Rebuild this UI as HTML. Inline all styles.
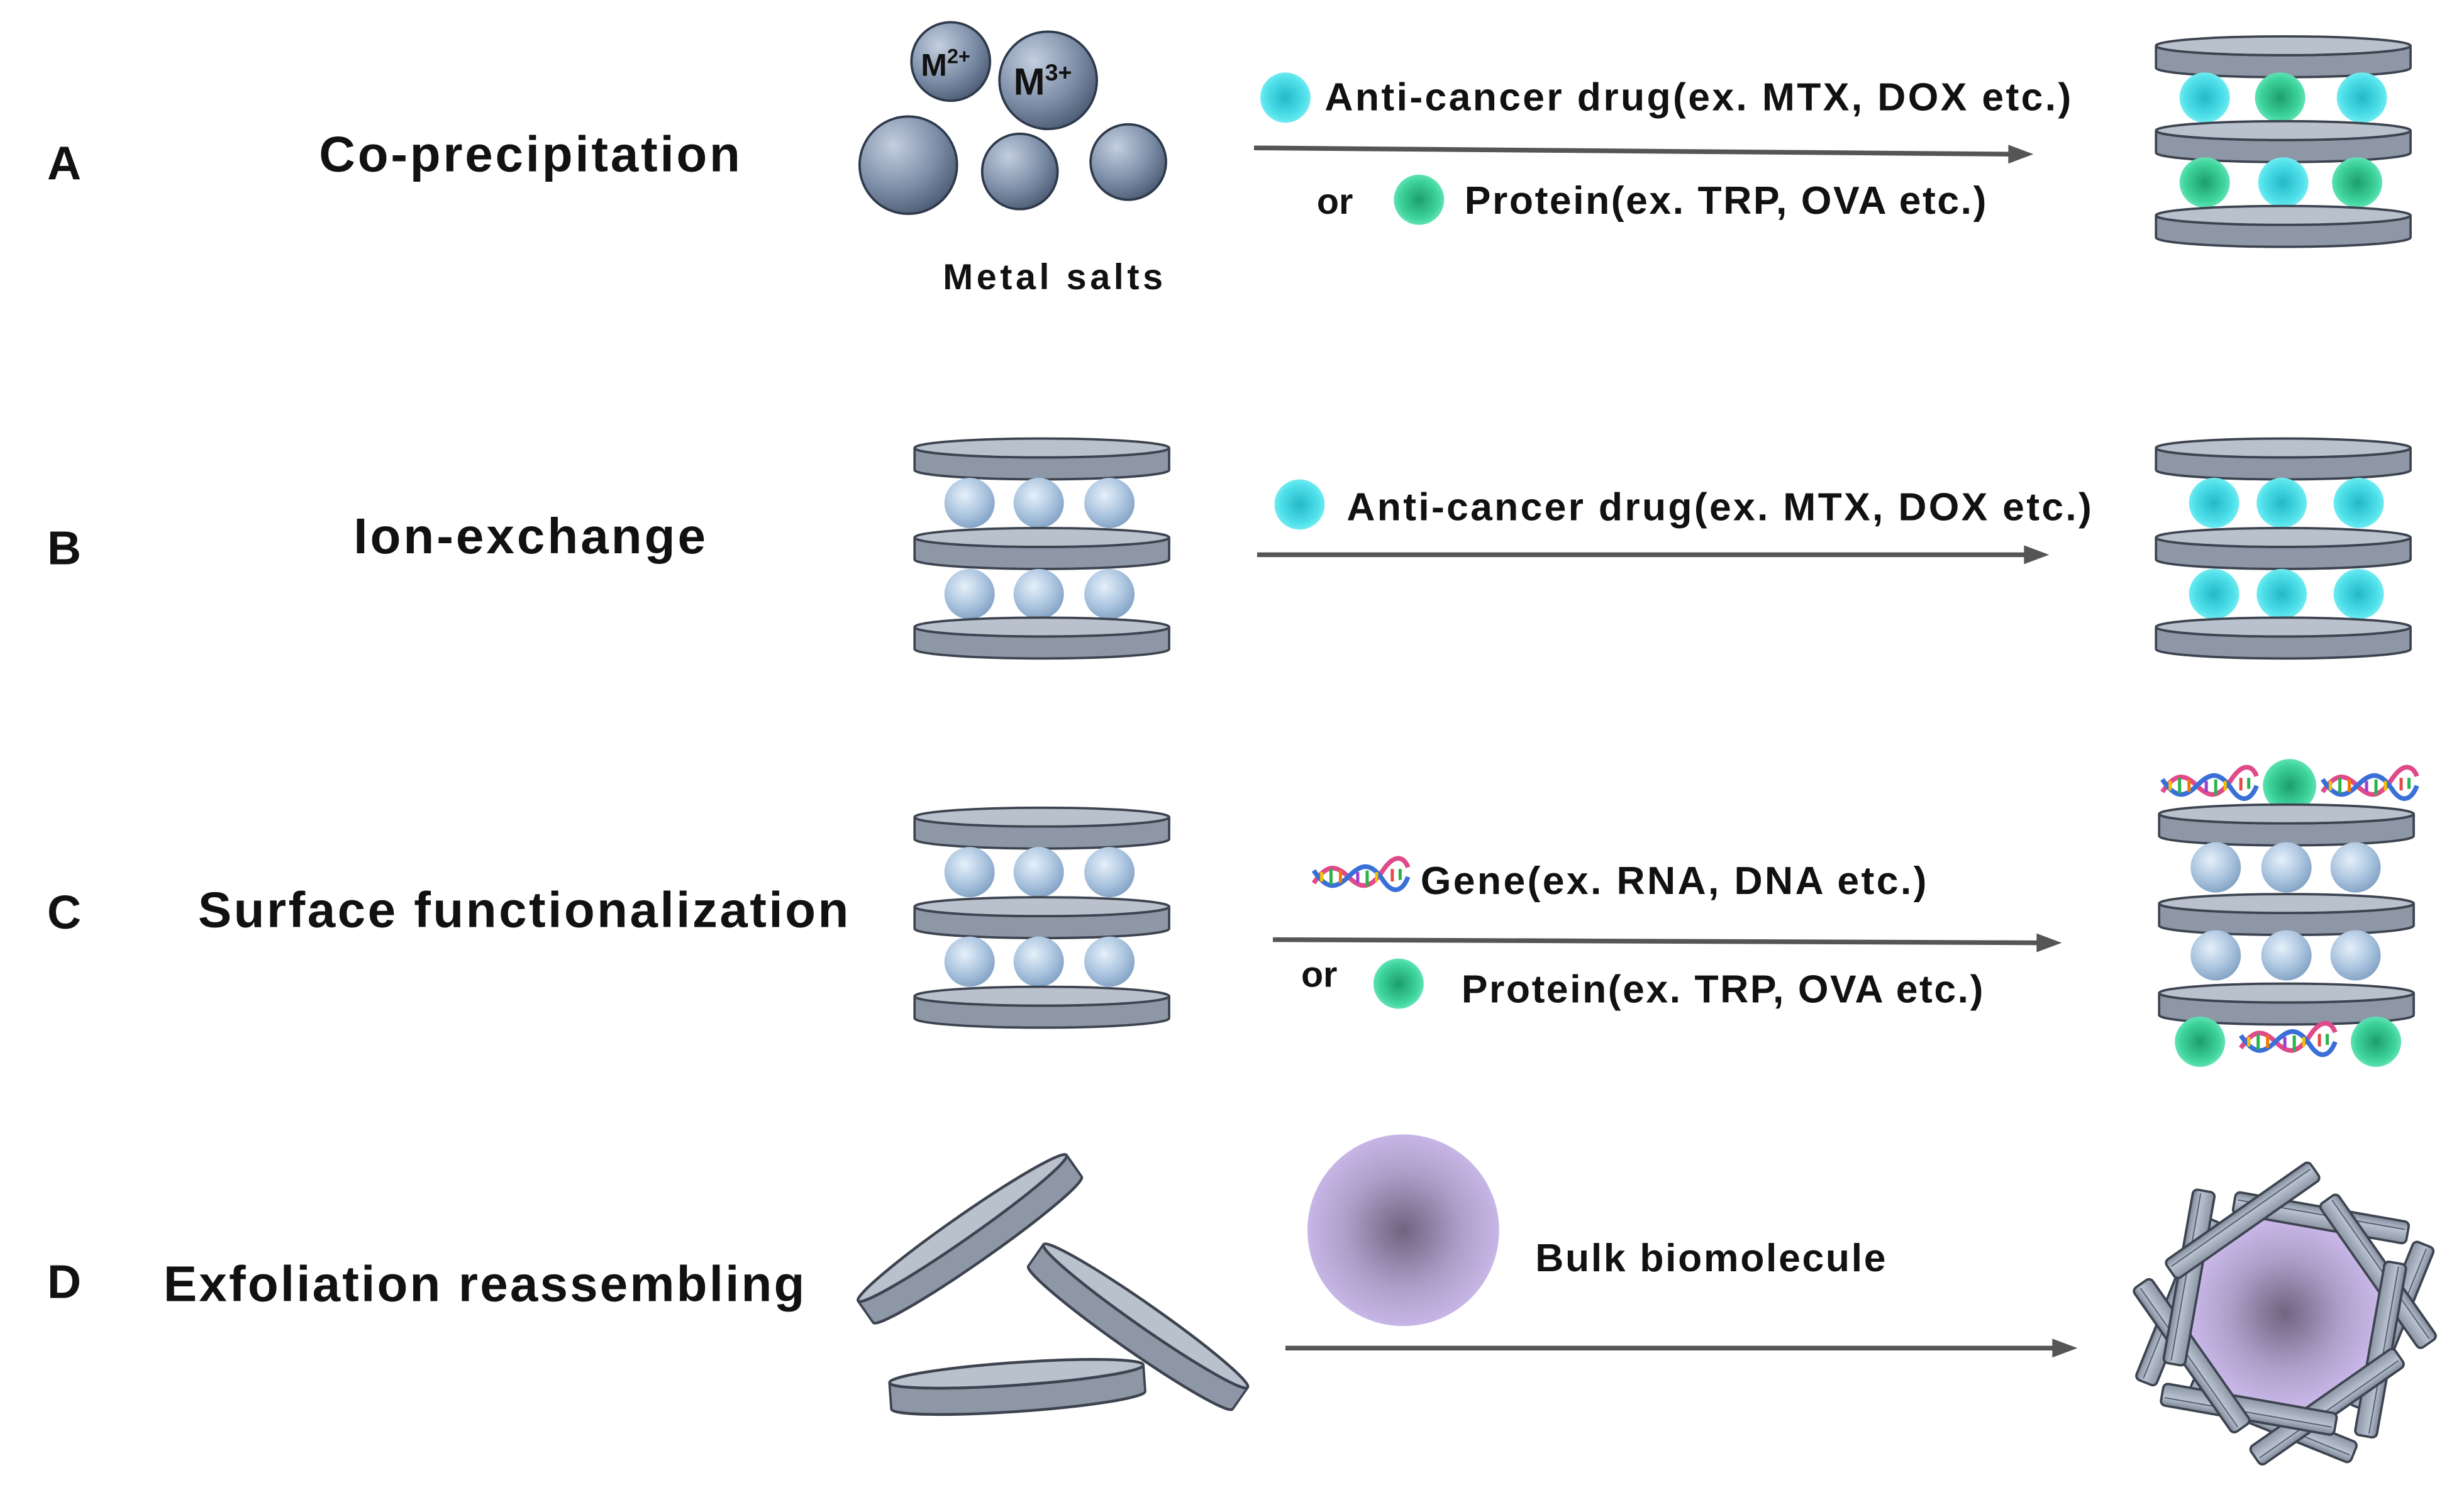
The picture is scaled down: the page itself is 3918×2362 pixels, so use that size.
<!DOCTYPE html>
<html><head><meta charset="utf-8"><style>
html,body{margin:0;padding:0;background:#fff;}
svg{display:block;}
text{font-family:"Liberation Sans","DejaVu Sans",sans-serif;font-weight:bold;fill:#111;}
</style></head><body>
<svg width="3918" height="2362" viewBox="0 0 1568 945" xmlns="http://www.w3.org/2000/svg">
<defs>
<radialGradient id="metal" cx="35%" cy="30%" r="75%"><stop offset="0" stop-color="#c4cfdf"/><stop offset="0.6" stop-color="#7d8ea8"/><stop offset="1" stop-color="#4d5c74"/></radialGradient>
<radialGradient id="blue" cx="40%" cy="35%" r="70%"><stop offset="0" stop-color="#e6f0fa"/><stop offset="0.6" stop-color="#a9c3de"/><stop offset="1" stop-color="#7f9fc2"/></radialGradient>
<radialGradient id="cyan" cx="50%" cy="50%" r="55%"><stop offset="0" stop-color="#22b8c8"/><stop offset="0.7" stop-color="#4fe0ea"/><stop offset="1" stop-color="#7ff0f4"/></radialGradient>
<radialGradient id="green" cx="50%" cy="50%" r="55%"><stop offset="0" stop-color="#1c9e6c"/><stop offset="0.7" stop-color="#3fd49c"/><stop offset="1" stop-color="#6fe8c0"/></radialGradient>
<radialGradient id="purple" cx="50%" cy="50%" r="50%"><stop offset="0" stop-color="#6f6580"/><stop offset="0.6" stop-color="#ad9ec8"/><stop offset="1" stop-color="#c7b6e6"/></radialGradient>
<linearGradient id="barg" x1="0" y1="0" x2="0" y2="1"><stop offset="0" stop-color="#7d8694"/><stop offset="0.4" stop-color="#b8c2d0"/><stop offset="1" stop-color="#8a94a2"/></linearGradient>
<g id="disk">
<path d="M0,0 A81,6 0 0 0 162,0 V14 A81,6 0 0 1 0,14 Z" fill="#8d97a6" stroke="#3d4450" stroke-width="1.5"/>
<ellipse cx="81" cy="0" rx="81" ry="6" fill="#b9c1cd" stroke="#3d4450" stroke-width="1.5"/>
</g>
<g id="bar">
<rect x="-56" y="-7" width="112" height="14" rx="3" fill="url(#barg)" stroke="#3d4450" stroke-width="1.5"/>
<line x1="-54" y1="-2" x2="54" y2="-2" stroke="#5a6270" stroke-width="0.8"/>
</g>
<g id="bs"><circle r="16" fill="url(#blue)"/></g>
<g id="cs"><circle r="16" fill="url(#cyan)"/></g>
<g id="gs"><circle r="16" fill="url(#green)"/></g>
<g id="dna">
<path d="M0,10 C8,-2 14,-2 22,6 S36,14 44,2 S58,-6 60,0" fill="none" stroke="#e04a8a" stroke-width="3"/>
<path d="M0,2 C8,14 14,14 22,6 S36,-4 44,8 S58,12 60,6" fill="none" stroke="#3a6fd8" stroke-width="3"/>
<g stroke-width="2"><line x1="5" y1="3" x2="5" y2="9" stroke="#f2c200"/><line x1="11" y1="1" x2="11" y2="11" stroke="#2bb24c"/><line x1="17" y1="2" x2="17" y2="10" stroke="#f07a00"/><line x1="28" y1="3" x2="28" y2="10" stroke="#9c3fd0"/><line x1="34" y1="2" x2="34" y2="12" stroke="#2bb24c"/><line x1="40" y1="3" x2="40" y2="9" stroke="#f2c200"/><line x1="50" y1="1" x2="50" y2="9" stroke="#e04a4a"/><line x1="55" y1="1" x2="55" y2="8" stroke="#2bb24c"/></g>
</g>
</defs>

<text x="30" y="114" font-size="30">A</text>
<text x="30" y="359" font-size="30">B</text>
<text x="30" y="591" font-size="30">C</text>
<text x="30" y="826" font-size="30">D</text>
<text x="337" y="109" font-size="32" text-anchor="middle" textLength="268">Co-precipitation</text>
<text x="337" y="352" font-size="32" text-anchor="middle" textLength="224">Ion-exchange</text>
<text x="333" y="590" font-size="32" text-anchor="middle" textLength="414">Surface functionalization</text>
<text x="308" y="828" font-size="32" text-anchor="middle" textLength="408">Exfoliation reassembling</text>

<g stroke="#2e3a4c" stroke-width="1.5">
<circle cx="605" cy="39" r="25" fill="url(#metal)"/>
<circle cx="667" cy="51" r="31" fill="url(#metal)"/>
<circle cx="578" cy="105" r="31" fill="url(#metal)"/>
<circle cx="649" cy="109" r="24" fill="url(#metal)"/>
<circle cx="718" cy="103" r="24" fill="url(#metal)"/>
</g>
<text x="586" y="48" font-size="20">M<tspan font-size="13" dy="-8">2+</tspan></text>
<text x="645" y="60" font-size="24">M<tspan font-size="15" dy="-9">3+</tspan></text>
<text x="670" y="184" font-size="23" text-anchor="middle" textLength="140">Metal salts</text>

<use href="#cs" x="818" y="62"/>
<text x="843" y="70" font-size="25" textLength="475">Anti-cancer drug(ex. MTX, DOX etc.)</text>
<line x1="798" y1="94" x2="1280" y2="98" stroke="#555" stroke-width="3"/>
<polygon points="1294,98 1278,92 1278,104" fill="#555"/>
<text x="838" y="136" font-size="23">or</text>
<use href="#gs" x="903" y="127"/>
<text x="932" y="136" font-size="25" textLength="332">Protein(ex. TRP, OVA etc.)</text>

<use href="#disk" x="1372" y="29"/>
<use href="#cs" x="1403" y="62"/><use href="#gs" x="1451" y="62"/><use href="#cs" x="1503" y="62"/>
<use href="#disk" x="1372" y="83"/>
<use href="#gs" x="1403" y="116"/><use href="#cs" x="1453" y="116"/><use href="#gs" x="1500" y="116"/>
<use href="#disk" x="1372" y="137"/>

<use href="#disk" x="582" y="285"/>
<use href="#bs" x="617" y="320"/><use href="#bs" x="661" y="320"/><use href="#bs" x="706" y="320"/>
<use href="#disk" x="582" y="342"/>
<use href="#bs" x="617" y="378"/><use href="#bs" x="661" y="378"/><use href="#bs" x="706" y="378"/>
<use href="#disk" x="582" y="399"/>
<use href="#cs" x="827" y="321"/>
<text x="857" y="331" font-size="25" textLength="474">Anti-cancer drug(ex. MTX, DOX etc.)</text>
<line x1="800" y1="353" x2="1290" y2="353" stroke="#555" stroke-width="3"/>
<polygon points="1304,353 1288,347 1288,359" fill="#555"/>
<use href="#disk" x="1372" y="285"/>
<use href="#cs" x="1409" y="320"/><use href="#cs" x="1452" y="320"/><use href="#cs" x="1501" y="320"/>
<use href="#disk" x="1372" y="342"/>
<use href="#cs" x="1409" y="378"/><use href="#cs" x="1452" y="378"/><use href="#cs" x="1501" y="378"/>
<use href="#disk" x="1372" y="399"/>

<use href="#disk" x="582" y="520"/>
<use href="#bs" x="617" y="555"/><use href="#bs" x="661" y="555"/><use href="#bs" x="706" y="555"/>
<use href="#disk" x="582" y="577"/>
<use href="#bs" x="617" y="612"/><use href="#bs" x="661" y="612"/><use href="#bs" x="706" y="612"/>
<use href="#disk" x="582" y="634"/>
<use href="#dna" x="836" y="552"/>
<text x="904" y="569" font-size="25" textLength="322">Gene(ex. RNA, DNA etc.)</text>
<line x1="810" y1="598" x2="1298" y2="600" stroke="#555" stroke-width="3"/>
<polygon points="1312,600 1296,594 1296,606" fill="#555"/>
<text x="828" y="628" font-size="23">or</text>
<use href="#gs" x="890" y="626"/>
<text x="930" y="638" font-size="25" textLength="332">Protein(ex. TRP, OVA etc.)</text>
<use href="#dna" x="1376" y="494"/>
<use href="#dna" x="1478" y="494"/>
<circle cx="1457" cy="500" r="17" fill="url(#green)"/>
<use href="#disk" x="1374" y="518"/>
<use href="#bs" x="1410" y="552"/><use href="#bs" x="1455" y="552"/><use href="#bs" x="1499" y="552"/>
<use href="#disk" x="1374" y="575"/>
<use href="#bs" x="1410" y="608"/><use href="#bs" x="1455" y="608"/><use href="#bs" x="1499" y="608"/>
<use href="#disk" x="1374" y="632"/>
<use href="#gs" x="1400" y="663"/><use href="#gs" x="1512" y="663"/>
<use href="#dna" x="1426" y="657"/>

<use href="#disk" transform="translate(546,828) rotate(-35) scale(1,1.2)"/>
<use href="#disk" transform="translate(664,792) rotate(35) scale(0.98,1.2)"/>
<use href="#disk" transform="translate(566,880) rotate(-4) scale(1,1.2)"/>
<circle cx="893" cy="783" r="61" fill="url(#purple)"/>
<text x="977" y="809" font-size="25" textLength="223">Bulk biomolecule</text>
<line x1="818" y1="858" x2="1308" y2="858" stroke="#555" stroke-width="3"/>
<polygon points="1322,858 1306,852 1306,864" fill="#555"/>

<!-- D right: pinwheel of bars around octagon -->
<g transform="translate(1454,836)">
<use href="#bar" transform="rotate(22) translate(66,-18) rotate(90)"/>
<use href="#bar" transform="rotate(112) translate(66,-18) rotate(90)"/>
<use href="#bar" transform="rotate(202) translate(66,-18) rotate(90)"/>
<polygon points="-24,-58 24,-58 58,-24 58,24 24,58 -24,58 -58,24 -58,-24" transform="rotate(10)" fill="url(#purple)"/>
<use href="#bar" transform="rotate(-80) translate(64,12) rotate(90)"/>
<use href="#bar" transform="rotate(-35) translate(64,12) rotate(90)"/>
<use href="#bar" transform="rotate(10) translate(64,12) rotate(90)"/>
<use href="#bar" transform="rotate(55) translate(64,12) rotate(90)"/>
<use href="#bar" transform="rotate(100) translate(64,12) rotate(90)"/>
<use href="#bar" transform="rotate(145) translate(64,12) rotate(90)"/>
<use href="#bar" transform="rotate(190) translate(64,12) rotate(90)"/>
<use href="#bar" transform="rotate(235) translate(64,12) rotate(90)"/>
</g>
</svg>
</body></html>
